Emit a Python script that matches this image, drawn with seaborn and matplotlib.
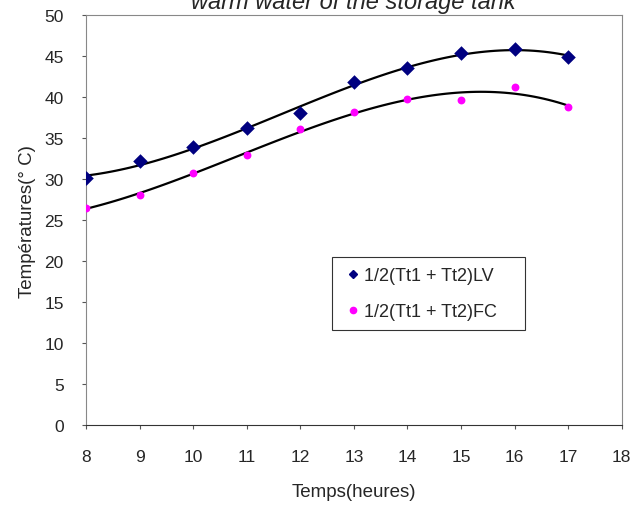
import numpy as np
import pandas as pd
import matplotlib
matplotlib.use('Agg')
import matplotlib.pyplot as plt
from matplotlib.lines import Line2D
import seaborn as sns

hours = [8, 9, 10, 11, 12, 13, 14, 15, 16, 17]
temp_lv = [30.1, 32.2, 33.9, 36.2, 38.1, 41.8, 43.5, 45.4, 45.9, 44.9]
temp_fc = [26.5, 28.1, 30.7, 33.0, 36.1, 38.2, 39.8, 39.6, 41.2, 38.8]
label_lv = '1/2(Tt1 + Tt2)LV'
label_fc = '1/2(Tt1 + Tt2)FC'

df = pd.DataFrame({'hour': hours, 'lv': temp_lv, 'fc': temp_fc})

sns.set_style('white')
plt.rcParams['font.family'] = ['Liberation Sans', 'DejaVu Sans']

fig = plt.figure(figsize=(6.34, 5.06), dpi=100)
ax = fig.add_axes([0.1356, 0.158, 0.845, 0.810])

# series with 3rd order trend lines (like Excel polynomial trendline)
sns.regplot(x='hour', y='lv', data=df, order=3, ci=None, ax=ax,
            marker='D', color='black',
            scatter_kws={'color': '#000080', 's': 55, 'zorder': 3,
                         'linewidths': 0, 'alpha': 1},
            line_kws={'color': 'black', 'lw': 1.6, 'zorder': 2})
sns.regplot(x='hour', y='fc', data=df, order=3, ci=None, ax=ax,
            marker='o', color='black',
            scatter_kws={'color': '#FF00FF', 's': 32, 'zorder': 3,
                         'linewidths': 0, 'alpha': 1},
            line_kws={'color': 'black', 'lw': 1.6, 'zorder': 2})

ax.set_xlim(8, 18)
ax.set_ylim(0, 50)
ax.set_xticks(range(8, 19))
ax.set_yticks(range(0, 51, 5))
ax.tick_params(axis='both', direction='out', length=3, width=0.8, color='#555555',
               labelsize=12.5, bottom=True, left=True)
ax.tick_params(axis='x', pad=14)
ax.tick_params(axis='y', pad=13)

ax.set_xlabel('Temps(heures)', fontsize=13.5, labelpad=14)
ax.set_ylabel('Températures(° C)', fontsize=13.5, labelpad=6)

for s in ['top', 'right']:
    ax.spines[s].set_linestyle((0, (1, 1)))
    ax.spines[s].set_color('#888888')
    ax.spines[s].set_linewidth(0.8)
ax.spines['left'].set_color('#888888')
ax.spines['left'].set_linewidth(0.8)
ax.spines['bottom'].set_color('#333333')
ax.spines['bottom'].set_linewidth(0.8)

# legend
handles = [Line2D([], [], marker='D', color='#000080', ls='none', markersize=4.5),
           Line2D([], [], marker='o', color='#FF00FF', ls='none', markersize=4.5)]
leg = ax.legend(handles, [label_lv, label_fc], loc='upper left', mode='expand',
                bbox_to_anchor=(0.459, 0.0, 0.360, 0.410), fontsize=13,
                frameon=True, fancybox=False, edgecolor='black',
                handlelength=1.2, handletextpad=0.05, borderpad=0.55,
                labelspacing=1.05, borderaxespad=0)
leg.get_frame().set_linewidth(0.8)

fig.text(0.558, 1 - 9 / 506, 'warm water of the storage tank', fontsize=17,
         style='italic', ha='center', va='baseline')

fig.savefig('out.png', dpi=100)
